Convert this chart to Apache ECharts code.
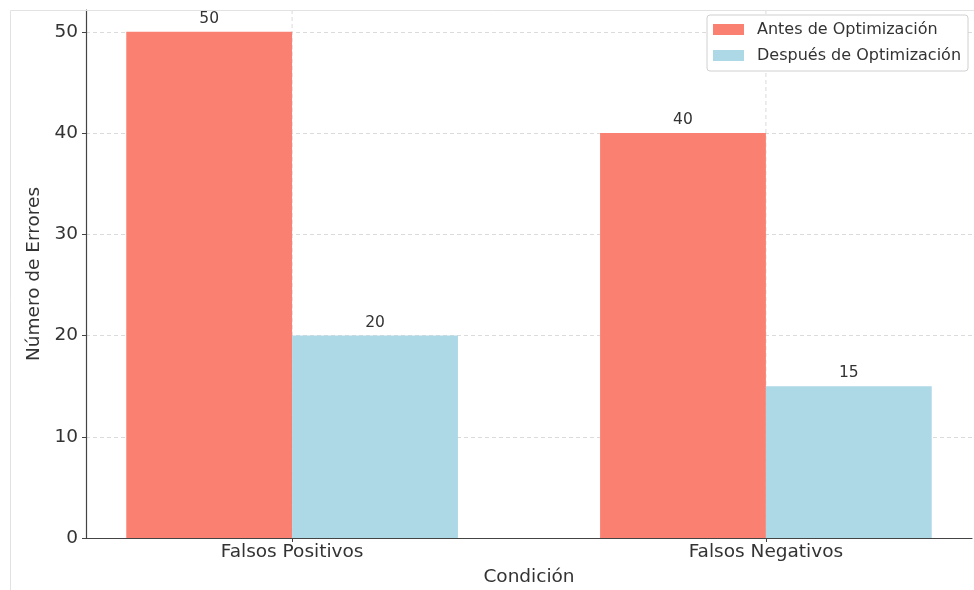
<!DOCTYPE html>
<html>
<head>
<meta charset="utf-8">
<script src="https://cdn.jsdelivr.net/npm/echarts@6/dist/echarts.min.js"></script>
<style>
  html, body { margin: 0; padding: 0; background: #fff; overflow: hidden; }
  #chart { width: 974px; height: 590px; }
</style>
</head>
<body>
<div id="chart"></div>
<script>
// Error counts per condition, before and after optimisation
const categories = ['Falsos Positivos', 'Falsos Negativos'];
const antes = [50, 40];
const despues = [20, 15];
const yTicks = [0, 10, 20, 30, 40, 50];

const BAR_W = 0.35;
const Y_MAX = 52.15;
const FONT = 'DejaVu Sans';
const GRID_LINE = { color: '#d2d2d2', type: [4, 3], width: 0.8 };

function barSeries(name, values, color, offset0, offset1) {
  return {
    name: name,
    type: 'custom',
    z: 3,
    itemStyle: { color: color },
    data: values.map((v, i) => [i, v]),
    renderItem: function (params, api) {
      const i = api.value(0);
      const v = api.value(1);
      const p0 = api.coord([i + offset0, v]);
      const p1 = api.coord([i + offset1, 0]);
      return {
        type: 'rect',
        shape: { x: p0[0], y: p0[1], width: p1[0] - p0[0], height: p1[1] - p0[1] },
        style: { fill: color },
        textContent: {
          style: { text: String(v), fill: '#333', fontSize: 15.5, fontFamily: FONT }
        },
        textConfig: { position: 'top', distance: 5 }
      };
    }
  };
}

const chart = echarts.init(document.getElementById('chart'), null, { renderer: 'canvas' });

chart.setOption({
  backgroundColor: '#fff',
  animation: false,
  textStyle: { fontFamily: FONT },
  graphic: [
    { type: 'line', shape: { x1: 10.5, y1: 10.5, x2: 974, y2: 10.5 }, style: { stroke: '#e2e2e2', lineWidth: 1 }, z: 10 },
    { type: 'line', shape: { x1: 10.5, y1: 10.5, x2: 10.5, y2: 590 }, style: { stroke: '#e2e2e2', lineWidth: 1 }, z: 10 }
  ],
  grid: { left: 86, right: 2, top: 10, bottom: 52, outerBoundsMode: 'none', containLabel: false },
  legend: {
    orient: 'vertical',
    left: 707,
    top: 15,
    padding: [6.5, 7, 7.5, 6],
    itemGap: 10,
    itemWidth: 31,
    itemHeight: 11,
    backgroundColor: '#fff',
    borderColor: '#d0d0d0',
    borderWidth: 1,
    borderRadius: 3,
    textStyle: { color: '#333', fontSize: 16, fontFamily: FONT, padding: [0, 0, 0, 8] },
    data: [
      { name: 'Antes de Optimización', icon: 'rect' },
      { name: 'Después de Optimización', icon: 'rect' }
    ]
  },
  xAxis: {
    type: 'value',
    min: -0.435,
    max: 1.435,
    name: 'Condición',
    nameLocation: 'middle',
    nameGap: 30,
    nameTextStyle: { color: '#333', fontSize: 18.5, fontFamily: FONT },
    axisLine: { show: true, onZero: false, lineStyle: { color: '#444', width: 1.2 } },
    axisTick: { show: true, customValues: [0, 1], length: 4, lineStyle: { color: '#444' } },
    axisLabel: {
      customValues: [0, 1],
      color: '#333',
      fontSize: 18.5,
      fontFamily: FONT,
      margin: 5,
      formatter: v => categories[Math.round(v)] || ''
    },
    splitLine: { show: false }
  },
  yAxis: {
    type: 'value',
    min: 0,
    max: Y_MAX,
    interval: 10,
    name: 'Número de Errores',
    nameLocation: 'middle',
    nameGap: 32,
    nameTextStyle: { color: '#333', fontSize: 18.5, fontFamily: FONT },
    axisLine: { show: true, onZero: false, lineStyle: { color: '#444', width: 1.2 } },
    axisTick: { show: true, customValues: yTicks, length: 4, lineStyle: { color: '#444' } },
    axisLabel: {
      customValues: yTicks,
      color: '#333',
      fontSize: 18.5,
      fontFamily: FONT,
      margin: 8
    },
    splitLine: { show: true, lineStyle: GRID_LINE }
  },
  series: [
    {
      // vertical dashed gridlines at each category
      name: 'grid-x',
      type: 'custom',
      z: 1,
      silent: true,
      data: categories.map((c, i) => [i]),
      renderItem: function (params, api) {
        const i = api.value(0);
        const top = api.coord([i, Y_MAX]);
        const bottom = api.coord([i, 0]);
        return {
          type: 'line',
          shape: { x1: top[0], y1: top[1], x2: bottom[0], y2: bottom[1] },
          style: { stroke: GRID_LINE.color, lineWidth: GRID_LINE.width, lineDash: GRID_LINE.type }
        };
      }
    },
    barSeries('Antes de Optimización', antes, '#FA8072', -BAR_W, 0),
    barSeries('Después de Optimización', despues, '#ADD8E6', 0, BAR_W)
  ]
});
</script>
</body>
</html>
